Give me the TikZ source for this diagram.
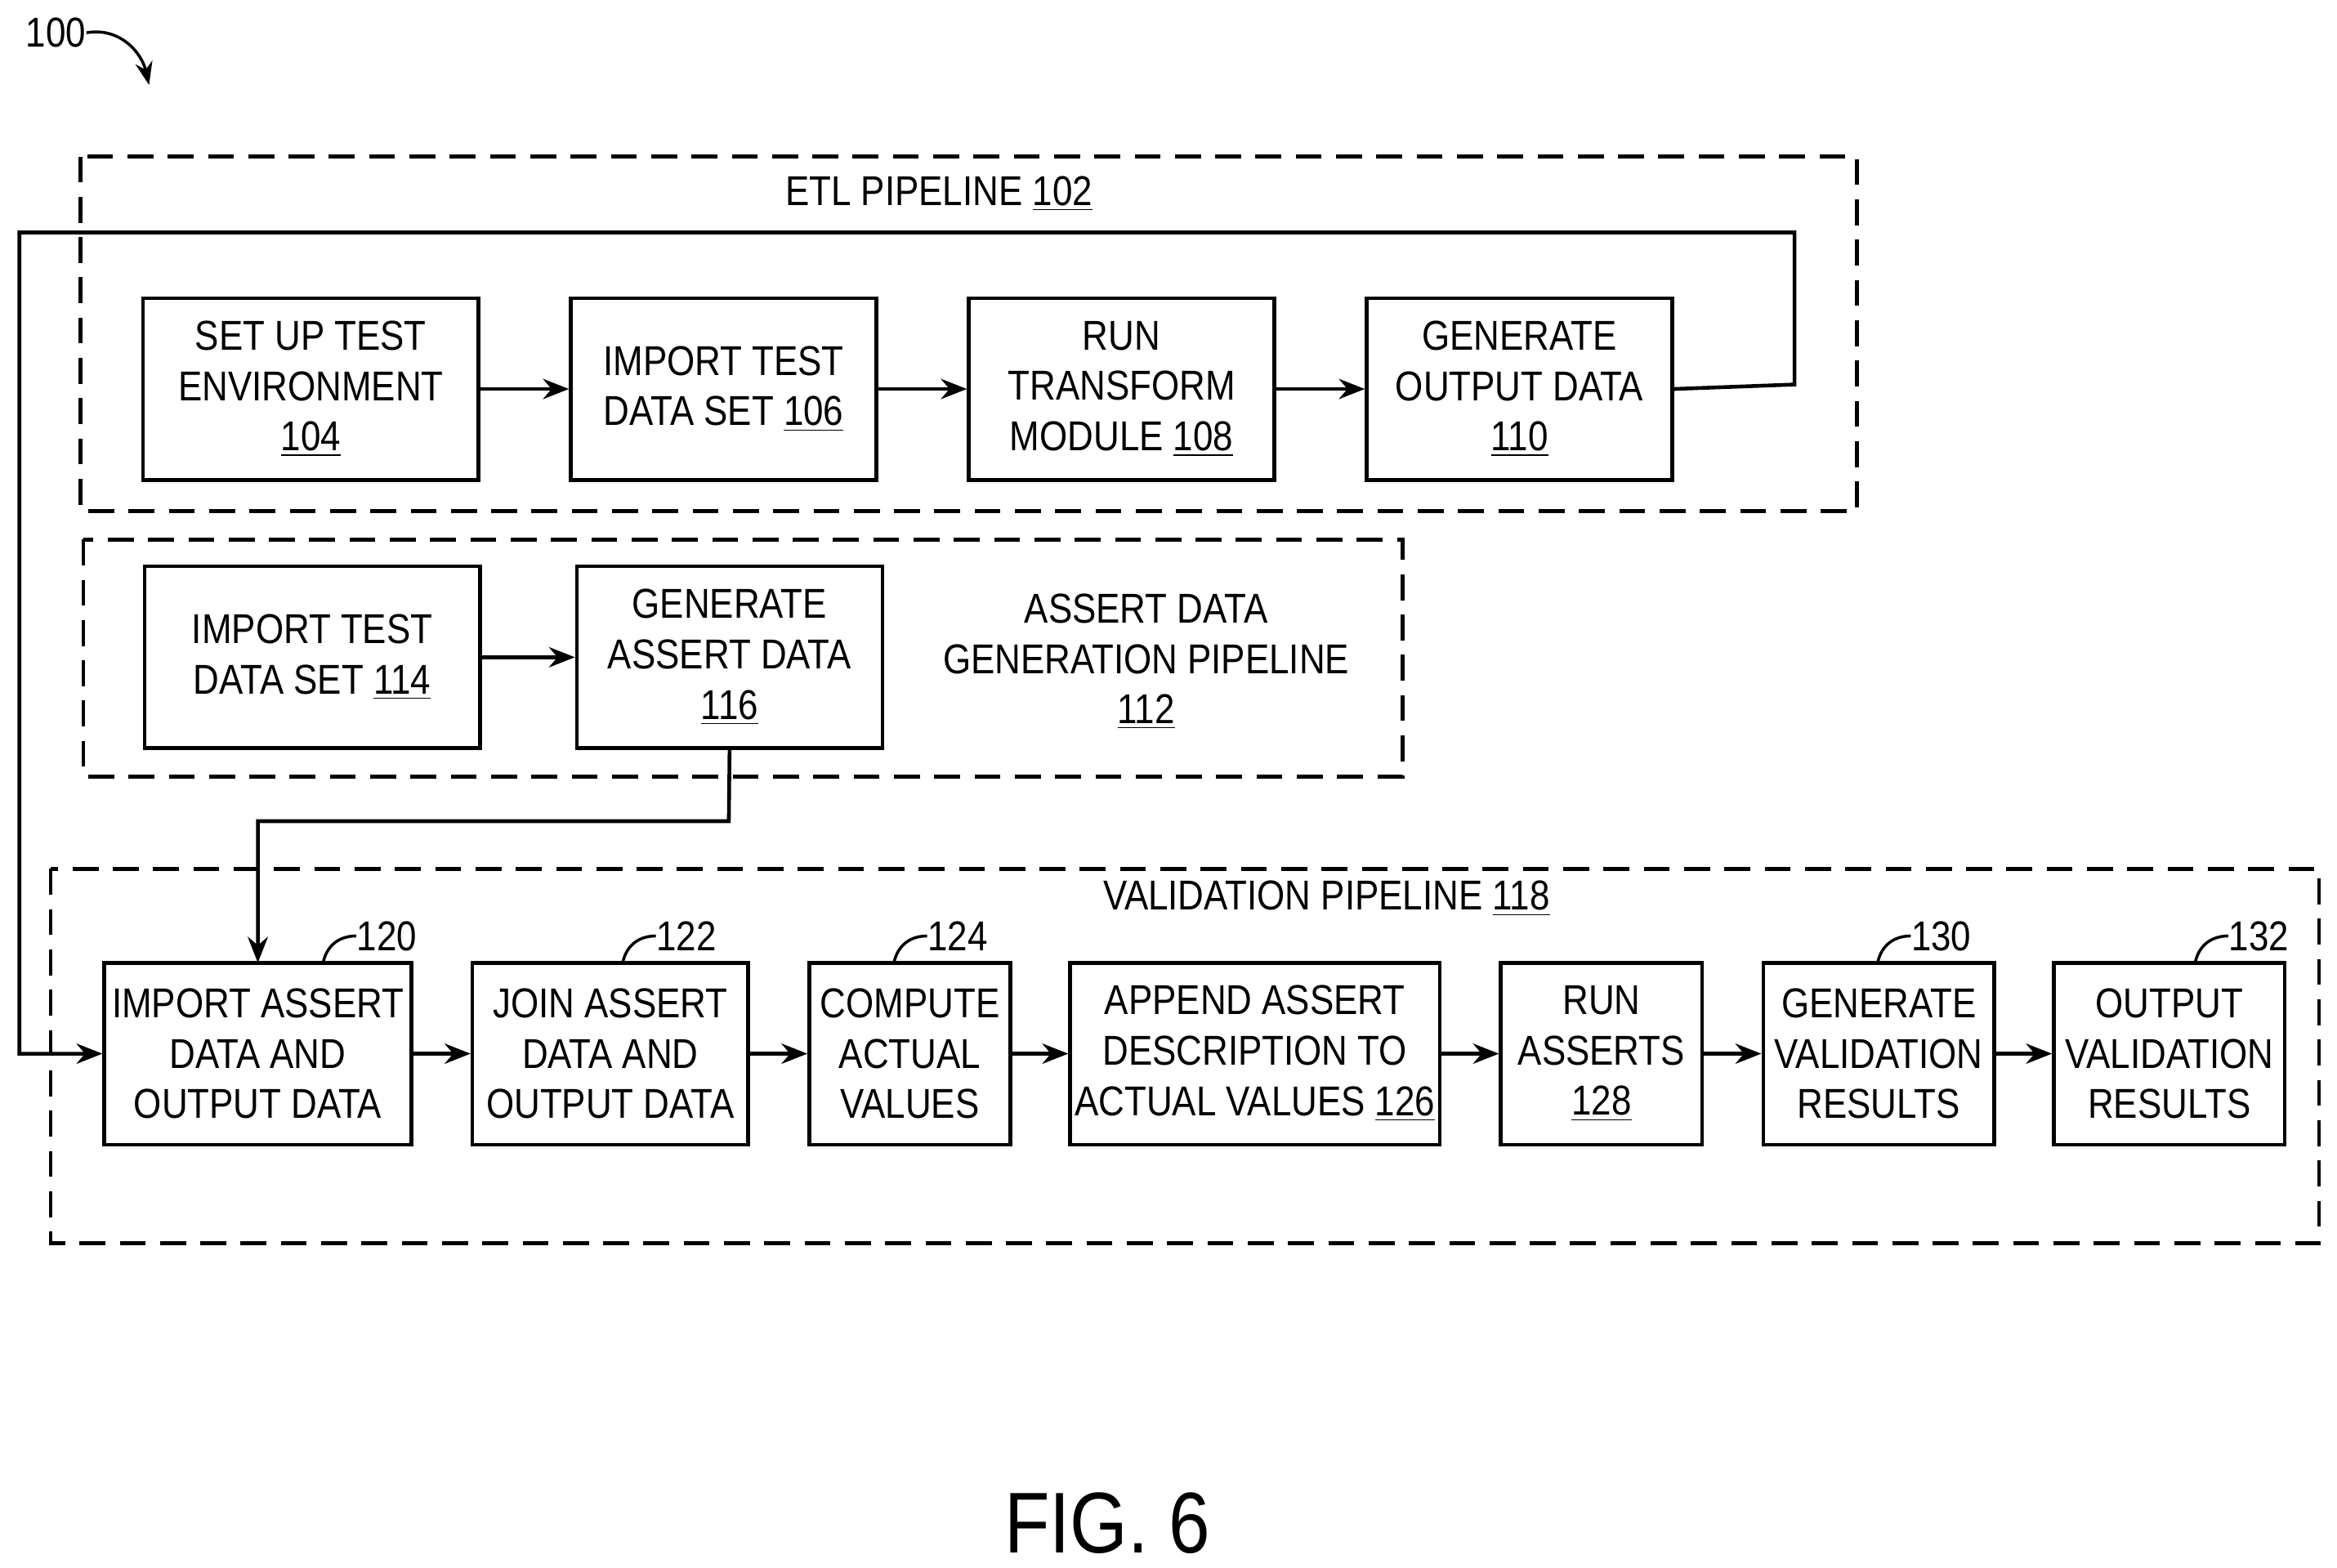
\documentclass[tikz,border=0pt]{standalone}
\usepackage{fontspec}
\setmainfont{Liberation Sans}[FakeStretch=0.86]
\usetikzlibrary{arrows.meta}
\begin{document}
\begin{tikzpicture}[x=0.0182cm,y=-0.0182cm,
 box/.style={draw,line width=1.3pt,align=center,inner sep=0pt,font=\fontsize{14.5}{17.5}\selectfont},
 dbox/.style={draw,line width=1.3pt,dash pattern=on 9pt off 5pt},
 lbl/.style={align=center,font=\fontsize{14.5}{17.5}\selectfont},
 arr/.style={line width=1.3pt,-{Stealth[length=9pt,width=7pt]}},
 ln/.style={line width=1pt}]
\useasboundingbox (0,0) rectangle (1568,1052);
\newcommand{\bx}[6]{\node[box,minimum width={(#4-#3)*0.0182cm},minimum height={(#6-#5)*0.0182cm}] (#1) at ({(#3+#4)/2},{(#5+#6)/2}) {#2};}
% ETL
\draw[dbox] (54,105) rectangle (1246,343);
\node[lbl] (etl) at (630,130) {ETL PIPELINE \underline{102}};
\bx{n104}{SET UP TEST\\ENVIRONMENT\\\underline{104}}{96}{321}{200}{322}
\bx{n106}{IMPORT TEST\\DATA SET \underline{106}}{383}{588}{200}{322}
\bx{n108}{RUN\\TRANSFORM\\MODULE \underline{108}}{650}{855}{200}{322}
\bx{n110}{GENERATE\\OUTPUT DATA\\\underline{110}}{917}{1122}{200}{322}
\draw[arr] (n104) -- (n106);
\draw[arr] (n106) -- (n108);
\draw[arr] (n108) -- (n110);
% Assert
\draw[dbox] (56,362) rectangle (941,521);
\bx{n114}{IMPORT TEST\\DATA SET \underline{114}}{97}{322}{380}{502}
\bx{n116}{GENERATE\\ASSERT DATA\\\underline{116}}{387}{592}{380}{502}
\node[lbl] (adg) at (769,444) {ASSERT DATA\\GENERATION PIPELINE\\\underline{112}};
\draw[arr] (n114) -- (n116);
% Validation
\draw[dbox] (34,583) rectangle (1556,834);
\node[lbl] (val) at (890,603) {VALIDATION PIPELINE \underline{118}};
\bx{n120}{IMPORT ASSERT\\DATA AND\\OUTPUT DATA}{70}{276}{646}{768}
\bx{n122}{JOIN ASSERT\\DATA AND\\OUTPUT DATA}{317}{502}{646}{768}
\bx{n124}{COMPUTE\\ACTUAL\\VALUES}{543}{678}{646}{768}
\bx{n126}{APPEND ASSERT\\DESCRIPTION TO\\ACTUAL VALUES \underline{126}}{718}{966}{646}{768}
\bx{n128}{RUN\\ASSERTS\\\underline{128}}{1007}{1142}{646}{768}
\bx{n130}{GENERATE\\VALIDATION\\RESULTS}{1183}{1338}{646}{768}
\bx{n132}{OUTPUT\\VALIDATION\\RESULTS}{1378}{1533}{646}{768}
\draw[arr] (n120) -- (n122);
\draw[arr] (n122) -- (n124);
\draw[arr] (n124) -- (n126);
\draw[arr] (n126) -- (n128);
\draw[arr] (n128) -- (n130);
\draw[arr] (n130) -- (n132);
% connectors
\draw[arr] (n110.east) -- (1204,258) -- (1204,156) -- (13,156) -- (13,707) -- (n120.west);
\draw[arr] (n116.south) -- (489,551) -- (173,551) -- (173,646);
% reference labels
\foreach \n/\tx in {120/217,122/418,124/600,130/1260,132/1473}{
  \node[lbl,anchor=west,inner sep=0pt] (r\n) at (\tx+22,628) {\n};
  \draw[ln] (\tx,645) .. controls (\tx+3,633) and (\tx+12,628) .. (r\n.west);
}
\node[lbl,anchor=east,inner sep=0pt] (r100) at (58,22) {100};
\draw[line width=1pt,-{Stealth[length=8pt,width=6pt]}] (r100.east) .. controls (80,18) and (95,35) .. (100,57);
\node[font=\fontsize{30}{34}\selectfont] (fig) at (743,1022) {FIG. 6};
\end{tikzpicture}
\end{document}
